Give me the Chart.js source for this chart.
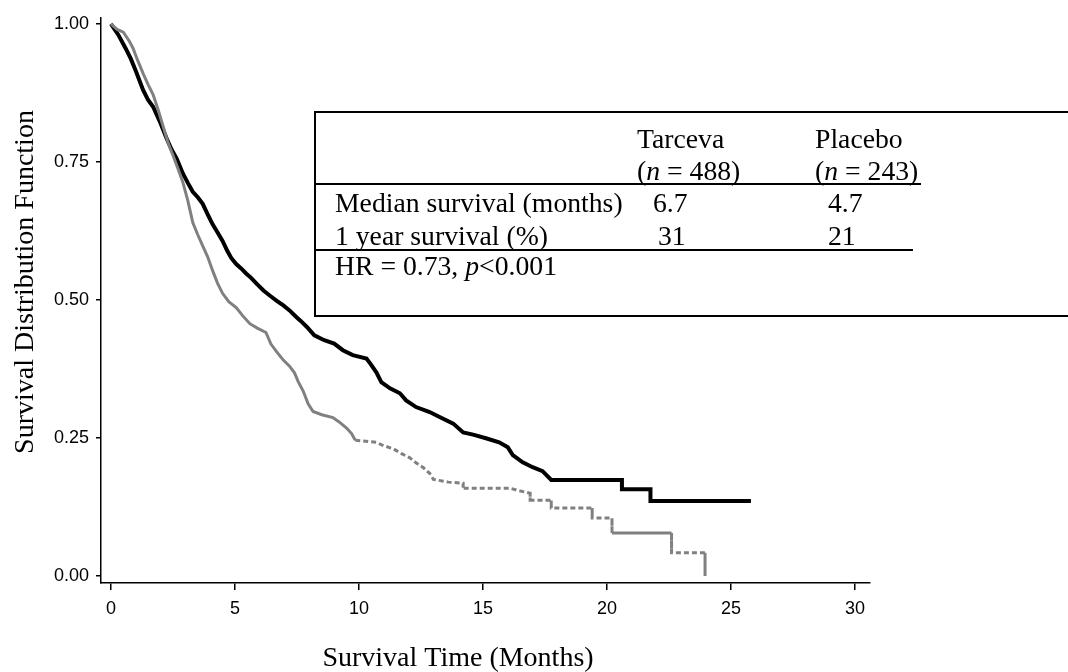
<!DOCTYPE html>
<html>
<head>
<meta charset="utf-8">
<script src="https://cdn.jsdelivr.net/npm/chart.js@4"></script>
<style>
  body { margin: 0; background: #fff; }
  #wrap { position: relative; width: 1068px; height: 672px; }
  #inset { position: absolute; left: 314px; top: 111px; width: 760px; height: 206px;
           border: 2px solid #000; border-right: none; box-sizing: border-box;
           font-family: "Liberation Serif", "Times New Roman", serif; font-size: 27.7px; color: #000; }
  #inset span { position: absolute; white-space: nowrap; line-height: 1; }
  #inset .rule { position: absolute; left: -2px; height: 2px; background: #000; }
</style>
</head>
<body>
<div id="wrap">
  <canvas id="kmChart"></canvas>
  <div id="inset">
    <span style="left:321px; top:12px">Tarceva</span>
    <span style="left:499px; top:12px">Placebo</span>
    <span style="left:321px; top:44px">(<i>n</i> = 488)</span>
    <span style="left:499px; top:44px">(<i>n</i> = 243)</span>
    <div class="rule" style="top:70px; width:607px"></div>
    <span style="left:19px; top:76px">Median survival (months)</span>
    <span style="left:337px; top:76px">6.7</span>
    <span style="left:512px; top:76px">4.7</span>
    <span style="left:19px; top:109px">1 year survival (%)</span>
    <span style="left:342px; top:109px">31</span>
    <span style="left:512px; top:109px">21</span>
    <div class="rule" style="top:136px; width:599px"></div>
    <span style="left:19px; top:139px">HR = 0.73, <i>p</i>&lt;0.001</span>
  </div>
</div>
<script>
// Kaplan-Meier curves (months, survival probability)
const tarcevaTime = [0, 0.3, 0.6, 0.8, 1.0, 1.3, 1.5, 1.7, 2.0, 2.25, 2.45, 2.65, 2.9, 3.1, 3.3, 3.5, 3.7, 3.9,
  4.1, 4.3, 4.5, 4.7, 4.85, 5.05, 5.25, 5.45, 5.65, 5.9, 6.15, 6.4, 6.7, 6.95, 7.2, 7.45, 7.65, 7.9, 8.2,
  8.6, 9.0, 9.35, 9.75, 10.3, 10.45, 10.7, 10.9, 11.25, 11.65, 11.9, 12.3, 12.85, 13.25, 13.8, 14.2, 14.6,
  15.15, 15.65, 16.0, 16.2, 16.6, 17.0, 17.4, 17.75, 20.6, 20.6, 21.75, 21.75, 25.8];
const tarcevaSurv = [1.0, 0.98, 0.955, 0.937, 0.915, 0.88, 0.862, 0.85, 0.82, 0.792, 0.772, 0.756, 0.729, 0.712,
  0.696, 0.686, 0.674, 0.655, 0.637, 0.622, 0.607, 0.588, 0.576, 0.565, 0.557, 0.548, 0.54, 0.528, 0.517,
  0.508, 0.498, 0.49, 0.481, 0.47, 0.462, 0.451, 0.436, 0.427, 0.421, 0.409, 0.4, 0.394, 0.385, 0.369,
  0.351, 0.34, 0.331, 0.318, 0.306, 0.297, 0.288, 0.276, 0.26, 0.256, 0.249, 0.242, 0.233, 0.219, 0.206,
  0.197, 0.19, 0.174, 0.174, 0.157, 0.157, 0.136, 0.136];

const placeboTime = [0, 0.25, 0.5, 0.75, 0.9, 1.05, 1.3, 1.5, 1.7, 1.9, 2.1, 2.3, 2.5, 2.7, 2.9, 3.1, 3.3, 3.5,
  3.7, 3.9, 4.1, 4.3, 4.5, 4.75, 5.05, 5.3, 5.6, 5.9, 6.25, 6.45, 6.7, 6.95, 7.2, 7.4, 7.55, 7.75, 7.95,
  8.15, 8.5, 8.95, 9.2, 9.5, 9.7, 9.85, 10.7, 11.0, 11.4, 11.7, 12.05, 12.3, 12.6, 12.85, 13.0, 13.6,
  14.2, 14.2, 16.1, 16.4, 16.9, 16.9, 17.75, 17.75, 19.4, 19.4, 20.2, 20.2, 22.6, 22.6, 23.95, 23.95];
const placeboSurv = [1.0, 0.99, 0.985, 0.968, 0.955, 0.937, 0.91, 0.89, 0.872, 0.845, 0.815, 0.785, 0.762,
  0.738, 0.713, 0.68, 0.64, 0.618, 0.598, 0.578, 0.553, 0.53, 0.512, 0.497, 0.486, 0.472, 0.457, 0.449,
  0.441, 0.42, 0.405, 0.391, 0.38, 0.368, 0.352, 0.335, 0.312, 0.298, 0.292, 0.287, 0.279, 0.268, 0.258,
  0.246, 0.242, 0.236, 0.23, 0.222, 0.214, 0.205, 0.196, 0.186, 0.175, 0.17, 0.168, 0.159, 0.159, 0.155,
  0.15, 0.137, 0.137, 0.123, 0.123, 0.105, 0.105, 0.078, 0.078, 0.042, 0.042, 0.0];

const xTicks = [0, 5, 10, 15, 20, 25, 30];
const yTicks = [0, 0.25, 0.5, 0.75, 1.0];

const toPoints = (xs, ys) => xs.map((x, i) => ({ x: x, y: ys[i] }));

// axis titles sit off-centre in the original, so draw them by hand
const axisTitles = {
  id: 'axisTitles',
  afterDraw(chart) {
    const c = chart.ctx;
    c.save();
    c.fillStyle = '#000';
    c.font = '28px "Liberation Serif", "Times New Roman", serif';
    c.textAlign = 'center';
    c.textBaseline = 'alphabetic';
    c.fillText('Survival Time (Months)', 458, 666);
    c.translate(33, 282);
    c.rotate(-Math.PI / 2);
    c.fillText('Survival Distribution Function', 0, 0);
    c.restore();
  }
};

const ctx = document.getElementById('kmChart').getContext('2d');
const kmChart = new Chart(ctx, {
  type: 'line',
  data: {
    datasets: [{
      label: 'Placebo',
      data: toPoints(placeboTime, placeboSurv),
      borderColor: '#808080',
      borderWidth: 3,
      pointRadius: 0,
      segment: {
        borderDash: s => {
          const x0 = s.p0.parsed.x;
          if (x0 < 9.8) return [];
          if (x0 >= 20.1 && x0 < 22 && s.p1.parsed.x > 22) return [];
          return [5, 3];
        }
      }
    }, {
      label: 'Tarceva',
      data: toPoints(tarcevaTime, tarcevaSurv),
      borderColor: '#000',
      borderWidth: 4,
      pointRadius: 0
    }]
  },
  options: {
    animation: false,
    responsive: true,
    maintainAspectRatio: false,
    layout: { padding: { left: 0, top: 17, right: 198, bottom: 0 } },
    scales: {
      x: {
        type: 'linear',
        min: -0.4,
        max: 30.6,
        afterFit: s => { s.height = 89; },
        afterBuildTicks: s => { s.ticks = xTicks.map(v => ({ value: v })); },
        ticks: {
          padding: 8,
          color: '#000',
          font: { family: '"Liberation Sans", Arial, sans-serif', size: 18 },
          callback: v => String(v)
        },
        grid: { drawOnChartArea: false, tickLength: 7, color: '#000', lineWidth: 1.5 },
        border: { display: true, color: '#000', width: 1.5 }
      },
      y: {
        min: -0.0127,
        max: 1.011,
        afterFit: s => { s.width = 101; },
        afterBuildTicks: s => { s.ticks = yTicks.map(v => ({ value: v })); },
        ticks: {
          padding: 7,
          color: '#000',
          font: { family: '"Liberation Sans", Arial, sans-serif', size: 18 },
          callback: v => v.toFixed(2)
        },
        grid: { drawOnChartArea: false, tickLength: 5, color: '#000', lineWidth: 1.5 },
        border: { display: true, color: '#000', width: 1.5 }
      }
    },
    plugins: {
      legend: { display: false },
      tooltip: { enabled: false }
    }
  },
  plugins: [axisTitles]
});
</script>
</body>
</html>
